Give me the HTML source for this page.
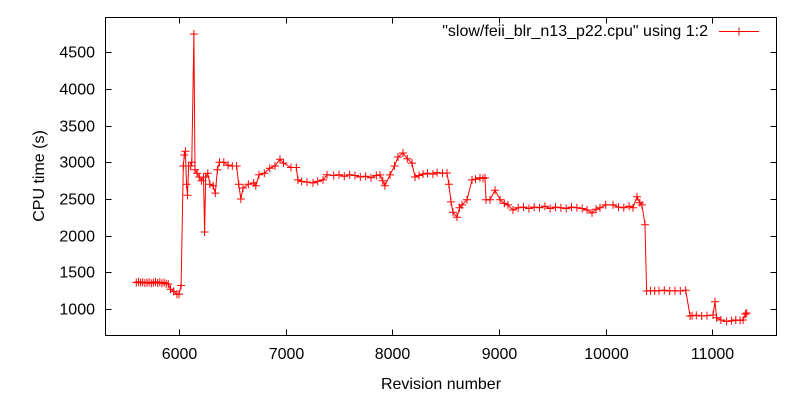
<!DOCTYPE html>
<html><head><meta charset="utf-8"><style>
html,body{margin:0;padding:0;background:#fff;}
svg{display:block;font-family:"Liberation Sans",Arial,sans-serif;}
</style></head><body>
<svg id="chart" width="800" height="400" viewBox="0 0 800 400">
<rect x="0" y="0" width="800" height="400" fill="#fff"/>
<g id="grid"></g>
<g id="series"></g>
<rect x="105.5" y="17.5" width="671" height="318" fill="none" stroke="#000" stroke-width="1"/>
<text x="44" y="176" font-size="16" text-anchor="middle" transform="rotate(-90 44 176)">CPU time (s)</text>
<text x="441" y="389" font-size="16" text-anchor="middle">Revision number</text>
<g>
<text x="708" y="36" font-size="16" text-anchor="end">"slow/feii_blr_n13_p22.cpu" using 1:2</text>
<line x1="719" y1="31.5" x2="759" y2="31.5" stroke="#f00" stroke-width="1"/>
<path d="M735,31.5h8M739,27.5v8" stroke="#f00" stroke-width="1"/>
</g>
</svg>
<script>
const xTicks=[6000,7000,8000,9000,10000,11000];
const yTicks=[1000,1500,2000,2500,3000,3500,4000,4500];
const revisions=[5600,5620,5640,5660,5680,5700,5720,5740,5760,5780,5800,5820,5840,5860,5880,5900,5920,5950,5980,6000,6020,6040,6050,6060,6070,6080,6090,6110,6120,6140,6150,6170,6190,6210,6230,6240,6250,6270,6290,6320,6340,6360,6380,6420,6460,6500,6540,6560,6580,6600,6650,6700,6720,6750,6800,6850,6900,6947,6980,7050,7100,7115,7150,7200,7256,7300,7350,7387,7450,7500,7550,7600,7650,7700,7750,7800,7850,7884,7910,7930,7978,8020,8053,8100,8140,8184,8212,8250,8287,8330,8380,8420,8470,8512,8530,8550,8569,8606,8630,8653,8700,8747,8780,8822,8850,8869,8878,8916,8962,9010,9050,9084,9131,9180,9230,9280,9330,9380,9430,9480,9530,9580,9630,9680,9730,9780,9825,9872,9910,9947,10000,10069,10120,10170,10220,10256,10294,10320,10340,10369,10384,10420,10460,10500,10550,10600,10650,10700,10750,10791,10810,10850,10900,10950,11006,11025,11040,11080,11134,11180,11220,11260,11288,11310,11322];
const cpuTimes=[1360,1370,1360,1365,1355,1360,1365,1350,1360,1370,1355,1365,1350,1360,1345,1340,1270,1240,1200,1200,1320,2950,3100,3150,2700,2550,2950,2950,3000,4750,2900,2850,2800,2750,2800,2050,2800,2850,2700,2680,2580,2900,3000,3000,2960,2950,2950,2700,2500,2650,2700,2720,2680,2830,2850,2920,2950,3042,2990,2930,2930,2760,2740,2730,2720,2740,2760,2830,2820,2830,2810,2830,2820,2800,2810,2790,2820,2828,2750,2680,2828,2950,3073,3127,3050,2990,2800,2820,2840,2850,2840,2860,2850,2855,2700,2460,2320,2250,2380,2420,2490,2760,2770,2790,2780,2790,2490,2490,2620,2490,2440,2420,2350,2380,2390,2370,2390,2380,2400,2370,2390,2380,2370,2390,2380,2370,2350,2310,2360,2380,2420,2420,2390,2380,2400,2380,2530,2450,2420,2150,1245,1250,1245,1250,1255,1245,1250,1245,1255,905,910,915,905,910,918,1100,880,850,830,840,850,845,850,930,945];
const X0=179,XS=0.10667,Y0=309,YS=0.07334;
function xScale(v){return X0+(v-6000)*XS;}
function yScale(v){return Y0-(v-1000)*YS;}
const NS="http://www.w3.org/2000/svg";
const grid=document.getElementById('grid');
xTicks.forEach(t=>{
  const x=Math.round(xScale(t))+0.5;
  const p=document.createElementNS(NS,'path');
  p.setAttribute('d',`M${x},335.5v-6M${x},17.5v6`);
  p.setAttribute('stroke','#000');
  
  
  grid.appendChild(p);
  const tx=document.createElementNS(NS,'text');
  tx.setAttribute('x',x);tx.setAttribute('y',359);
  tx.setAttribute('font-size','16');tx.setAttribute('text-anchor','middle');
  
  
  tx.textContent=t;grid.appendChild(tx);
});
yTicks.forEach(t=>{
  const y=Math.round(yScale(t))+0.5;
  const p=document.createElementNS(NS,'path');
  p.setAttribute('d',`M105.5,${y}h6M776.5,${y}h-6`);
  p.setAttribute('stroke','#000');
  
  
  grid.appendChild(p);
  const tx=document.createElementNS(NS,'text');
  tx.setAttribute('x',95);tx.setAttribute('y',y+5);
  tx.setAttribute('font-size','16');tx.setAttribute('text-anchor','end');
  
  
  tx.textContent=t;grid.appendChild(tx);
});
const s=document.getElementById('series');
let d='';
revisions.forEach((r,i)=>{d+=(i?'L':'M')+xScale(r).toFixed(1)+','+yScale(cpuTimes[i]).toFixed(1);});
const line=document.createElementNS(NS,'path');
line.setAttribute('d',d);line.setAttribute('fill','none');line.setAttribute('stroke','#f00');line.setAttribute('stroke-width','1');


s.appendChild(line);
revisions.forEach((r,i)=>{
  const x=xScale(r),y=yScale(cpuTimes[i]);
  const m=document.createElementNS(NS,'path');
  m.setAttribute('d',`M${(x-4).toFixed(1)},${y.toFixed(1)}h8M${x.toFixed(1)},${(y-4).toFixed(1)}v8`);
  m.setAttribute('stroke','#f00');m.setAttribute('stroke-width','1');
  
  
  s.appendChild(m);
});
</script>
</body></html>
